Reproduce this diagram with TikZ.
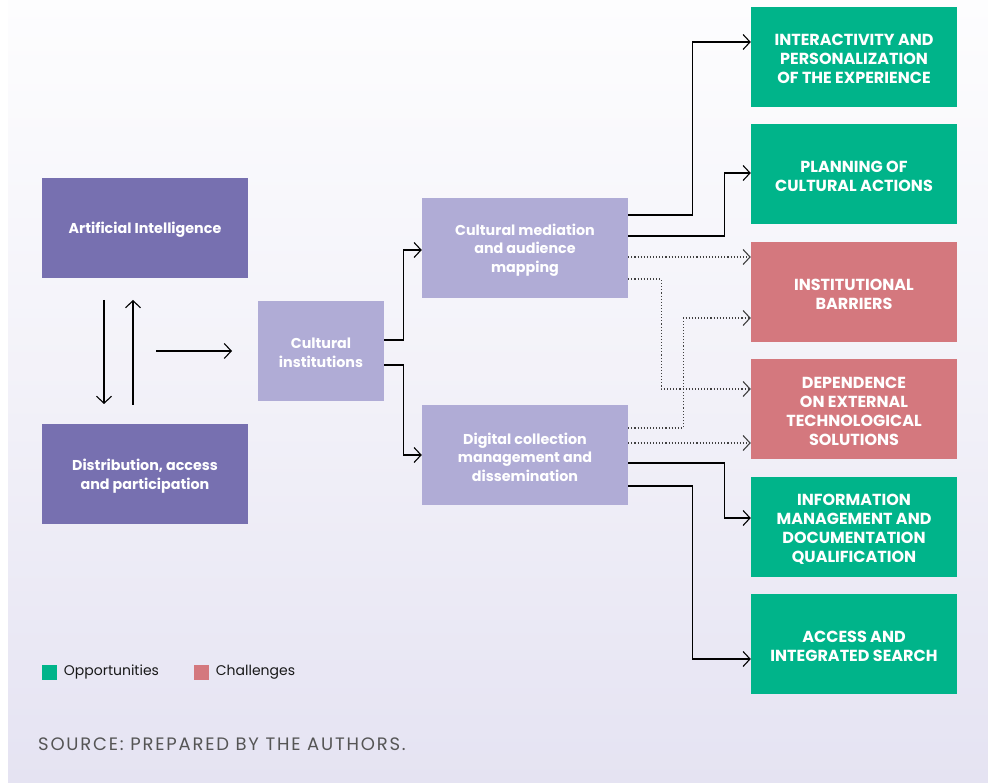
\documentclass[tikz,border=0pt]{standalone}
\usepackage{fontspec}
\setmainfont{Poppins}
\usetikzlibrary{arrows.meta,positioning,calc}
\definecolor{bgtop}{HTML}{FDFDFE}
\definecolor{bgbot}{HTML}{E5E3F2}
\definecolor{dpurple}{HTML}{7770B0}
\definecolor{lpurple}{HTML}{B0ACD6}
\definecolor{oppgreen}{HTML}{00B48A}
\definecolor{chalred}{HTML}{D4787E}
\definecolor{srcgray}{HTML}{555555}
\begin{document}
\begin{tikzpicture}[x=1pt,y=-1pt,
  box/.style={rectangle,inner sep=0pt,minimum width=206pt,minimum height=100pt},
  dbox/.style={box,fill=dpurple},
  lbox/.style={box,fill=lpurple},
  gbox/.style={box,fill=oppgreen},
  rbox/.style={box,fill=chalred},
  ltxt/.style={inner sep=0pt,text=white,align=center,font=\bfseries\fontsize{14.3}{18.5}\selectfont},
  rtxt/.style={inner sep=0pt,text=white,align=center,font=\bfseries\fontsize{16}{19}\selectfont},
  conn/.style={draw=black,line width=1.1pt,-{Straight Barb[length=7pt,width=15pt,line width=1.1pt]}},
  dconn/.style={conn,draw=black!75,dotted},
  legsq/.style={rectangle,inner sep=0pt,minimum size=15pt},
  legtxt/.style={anchor=west,inner sep=0pt,font=\fontsize{14}{16}\selectfont,text=black!90}
]
\useasboundingbox (0,0) rectangle (988,783);
\shade[top color=bgtop,bottom color=bgbot,middle color=bgtop!55!bgbot] (8,0) rectangle (988,783);

% left column
\node[dbox] (ai) at (145,228) {};
\node[dbox] (dist) at (145,474) {};
\node[lbox,minimum width=126pt] (ci) at (321,351) {};
\node[lbox] (med) at (525,248) {};
\node[lbox] (dig) at (525,455) {};
\node[ltxt] (aiT) at ([yshift=-2pt]ai.center) {Artificial Intelligence};
\node[ltxt] (distT) at ([yshift=-2pt]dist.center) {Distribution, access\\and participation};
\node[ltxt] (ciT) at ([yshift=-2pt]ci.center) {Cultural\\institutions};
\node[ltxt] (medT) at ([yshift=-2pt]med.center) {Cultural mediation\\and audience\\mapping};
\node[ltxt] (digT) at ([yshift=-2pt]dig.center) {Digital collection\\management and\\dissemination};

% right column
\node[gbox] (r1) at (854,57) {};
\node[gbox] (r2) at (854,174) {};
\node[rbox] (r3) at (854,292) {};
\node[rbox] (r4) at (854,409) {};
\node[gbox] (r5) at (854,527) {};
\node[gbox] (r6) at (854,644) {};
\node[rtxt] (r1T) at ([yshift=-2pt]r1.center) {INTERACTIVITY AND\\PERSONALIZATION\\OF THE EXPERIENCE};
\node[rtxt] (r2T) at ([yshift=-2pt]r2.center) {PLANNING OF\\CULTURAL ACTIONS};
\node[rtxt] (r3T) at ([yshift=-2pt]r3.center) {INSTITUTIONAL\\BARRIERS};
\node[rtxt] (r4T) at ([yshift=-2pt]r4.center) {DEPENDENCE\\ON EXTERNAL\\TECHNOLOGICAL\\SOLUTIONS};
\node[rtxt] (r5T) at ([yshift=-2pt]r5.center) {INFORMATION\\MANAGEMENT AND\\DOCUMENTATION\\QUALIFICATION};
\node[rtxt] (r6T) at ([yshift=-2pt]r6.center) {ACCESS AND\\INTEGRATED SEARCH};

% free ends of the left arrows
\coordinate (dA) at (104,300);
\coordinate (dB) at (104,404);
\coordinate (uA) at (133,405);
\coordinate (uB) at (133,300);
\coordinate (hA) at (156,351);
\coordinate (hB) at (232,351);
\draw[conn] (dA) -- (dB);
\draw[conn] (uA) -- (uB);
\draw[conn] (hA) -- (hB);

% cultural institutions to the two middle boxes
\draw[conn] ([yshift=11pt]ci.east) -- ++(19,0) |- ([yshift=-2pt]med.west);
\draw[conn] ([yshift=-14pt]ci.east) -- ++(19,0) |- (dig.west);

% mediation
\draw[conn] ([yshift=33pt]med.east) -- ++(64,0) |- ([yshift=15pt]r1.west);
\draw[conn] ([yshift=12pt]med.east) -- ++(96,0) |- ([yshift=1pt]r2.west);
\draw[dconn] ([yshift=-9pt]med.east) -- ([yshift=35pt]r3.west);
\draw[dconn] ([yshift=-31pt]med.east) -- ++(33,0) |- ([yshift=20pt]r4.west);

% digital collection
\draw[dconn] ([yshift=27pt]dig.east) -- ++(55,0) |- ([yshift=-26pt]r3.west);
\draw[dconn] ([yshift=12pt]dig.east) -- ([yshift=-34pt]r4.west);
\draw[conn] ([yshift=-8pt]dig.east) -- ++(96,0) |- ([yshift=9pt]r5.west);
\draw[conn] ([yshift=-31pt]dig.east) -- ++(64,0) |- ([yshift=-15pt]r6.west);

% legend
\node[legsq,fill=oppgreen] (lg) at (49,672) {};
\node[legtxt,right=7pt of lg] (lgt) {Opportunities};
\node[legsq,fill=chalred] (lr) at (201,672) {};
\node[legtxt,right=7pt of lr] (lrt) {Challenges};

% source
\node[anchor=west,inner sep=0pt,text=srcgray,font=\addfontfeatures{LetterSpace=10}\fontsize{18}{20}\selectfont] (src) at (38,744) {SOURCE: PREPARED BY THE AUTHORS.};
\end{tikzpicture}
\end{document}
